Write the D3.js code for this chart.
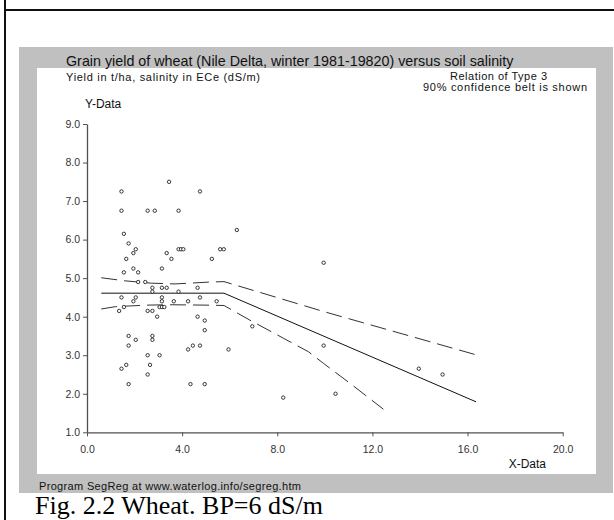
<!DOCTYPE html>
<html>
<head>
<meta charset="utf-8">
<script src="https://cdn.jsdelivr.net/npm/d3@7"></script>
<style>
  body { margin: 0; background: #fff; }
  svg { display: block; }
  text { font-family: "Liberation Sans", Arial, sans-serif; }
</style>
</head>
<body>
<div id="chart"></div>
<script>
// data
const xTicks = [0, 4, 8, 12, 16, 20];
const yTicks = [1, 2, 3, 4, 5, 6, 7, 8, 9];

const salinity = [1.45, 1.45, 1.55, 1.75, 2.05, 1.95, 1.65, 1.55, 1.95, 2.15,
  2.15, 2.45, 2.55, 2.85, 3.45, 3.85, 4.75, 6.3, 3.35, 3.55,
  3.85, 3.95, 4.05, 5.25, 5.6, 5.75, 3.15, 2.75, 2.75, 3.15,
  3.35, 3.85, 4.65, 1.45, 2.05, 3.15, 4.75, 1.95, 1.55, 3.15,
  3.05, 3.15, 3.25, 3.65, 4.25, 5.45, 1.35, 2.55, 2.75, 2.95,
  1.75, 1.75, 2.05, 2.75, 2.75, 2.55, 3.05, 2.65, 1.65, 1.45,
  2.55, 1.75, 4.25, 4.45, 4.75, 4.65, 4.95, 4.95, 4.35, 4.95,
  5.95, 6.95, 9.95, 9.95, 8.25, 10.45, 13.95, 14.95];
const grainYield = [7.25, 6.75, 6.15, 5.9, 5.75, 5.65, 5.5, 5.15, 5.25, 5.15,
  4.9, 4.9, 6.75, 6.75, 7.5, 6.75, 7.25, 6.25, 5.65, 5.5,
  5.75, 5.75, 5.75, 5.5, 5.75, 5.75, 5.25, 4.75, 4.65, 4.75,
  4.75, 4.65, 4.75, 4.5, 4.5, 4.5, 4.5, 4.4, 4.25, 4.4,
  4.25, 4.25, 4.25, 4.4, 4.4, 4.4, 4.15, 4.15, 4.15, 4.0,
  3.5, 3.25, 3.4, 3.5, 3.4, 3.0, 3.0, 2.75, 2.75, 2.65,
  2.5, 2.25, 3.15, 3.25, 3.25, 4.0, 3.9, 3.65, 2.25, 2.25,
  3.15, 3.75, 5.4, 3.25, 1.9, 2.0, 2.65, 2.5];

// segmented regression line (breakpoint near 5.8)
const fitX = [0.6, 5.76, 16.36];
const fitY = [4.61, 4.61, 1.79];

// 90% confidence belt
const upperX = [0.6, 1.6, 2.7, 3.7, 5.2, 5.76, 9.97, 16.36];
const upperY = [5.01, 4.93, 4.87, 4.85, 4.9, 4.91, 4.13, 3.01];
const lowerX = [0.6, 1.2, 2.5, 3.5, 5.0, 5.76, 6.85, 8.26, 9.31, 9.94, 11.06, 12.46];
const lowerY = [4.2, 4.26, 4.3, 4.31, 4.3, 4.29, 3.91, 3.44, 3.09, 2.79, 2.27, 1.6];

const svgWidth = 614;
const svgHeight = 520;

const svg = d3.select('#chart')
  .append('svg')
  .attr('width', svgWidth)
  .attr('height', svgHeight);

// page frame lines
svg.append('line').attr('x1', 5).attr('x2', 5).attr('y1', 0).attr('y2', 520)
  .attr('stroke', '#111').attr('stroke-width', 2);
svg.append('line').attr('x1', 4).attr('x2', 614).attr('y1', 10).attr('y2', 10)
  .attr('stroke', '#111').attr('stroke-width', 2);

// grey panel and white plot area
svg.append('rect').attr('x', 19).attr('y', 47).attr('width', 594).attr('height', 446)
  .attr('fill', '#c0c0c0');
svg.append('rect').attr('x', 37).attr('y', 68).attr('width', 559).attr('height', 406)
  .attr('fill', '#fff');

const xScale = d3.scaleLinear().domain([0, 20]).range([87, 562.7]);
const yScale = d3.scaleLinear().domain([1, 9]).range([432.3, 124]);

// axes
const xAxis = svg.append('g')
  .attr('transform', `translate(0,${yScale(1)})`)
  .call(d3.axisBottom(xScale).tickValues(xTicks).tickSize(4).tickSizeOuter(0)
    .tickPadding(9).tickFormat(d3.format('.1f')));
const yAxis = svg.append('g')
  .attr('transform', `translate(${xScale(0)},0)`)
  .call(d3.axisLeft(yScale).tickValues(yTicks).tickSize(4).tickSizeOuter(0)
    .tickPadding(3).tickFormat(d3.format('.1f')));

[xAxis, yAxis].forEach(a => {
  a.select('.domain').attr('stroke', '#505050').attr('stroke-width', 1.3);
  a.selectAll('.tick line').attr('stroke', '#505050');
  a.selectAll('.tick text').attr('fill', '#333').style('font-size', '10.5px')
    .style('font-family', '"Liberation Sans", Arial, sans-serif');
});

const lineGen = d3.line().x(d => xScale(d[0])).y(d => yScale(d[1]));

svg.append('path')
  .datum(fitX.map((x, i) => [x, fitY[i]]))
  .attr('d', lineGen).attr('fill', 'none').attr('stroke', '#111').attr('stroke-width', 1);

[[upperX, upperY], [lowerX, lowerY]].forEach(([xs, ys]) => {
  svg.append('path')
    .datum(xs.map((x, i) => [x, ys[i]]))
    .attr('d', lineGen).attr('fill', 'none').attr('stroke', '#333')
    .attr('stroke-width', 1).attr('stroke-dasharray', '16,7');
});

// observations
svg.selectAll('.pt')
  .data(salinity.map((x, i) => [x, grainYield[i]]))
  .enter().append('circle')
  .attr('class', 'pt')
  .attr('cx', d => xScale(d[0]))
  .attr('cy', d => yScale(d[1]))
  .attr('r', 1.7)
  .attr('fill', '#fff')
  .attr('stroke', '#222')
  .attr('stroke-width', 0.9);

// texts
svg.append('text').attr('x', 66).attr('y', 66)
  .style('font-size', '14.3px').attr('fill', '#111')
  .text('Grain yield of wheat (Nile Delta, winter 1981-19820) versus soil salinity');
svg.append('text').attr('x', 66).attr('y', 80.5)
  .style('font-size', '11px').attr('fill', '#111')
  .attr('textLength', 194).attr('lengthAdjust', 'spacing')
  .text('Yield in t/ha, salinity in ECe (dS/m)');
svg.append('text').attr('x', 450).attr('y', 79.5)
  .style('font-size', '11px').attr('fill', '#111')
  .attr('textLength', 97).attr('lengthAdjust', 'spacing')
  .text('Relation of Type 3');
svg.append('text').attr('x', 423).attr('y', 90.5)
  .style('font-size', '11px').attr('fill', '#111')
  .attr('textLength', 164).attr('lengthAdjust', 'spacing')
  .text('90% confidence belt is shown');
svg.append('text').attr('x', 85).attr('y', 107.5)
  .style('font-size', '12px').attr('fill', '#111')
  .text('Y-Data');
svg.append('text').attr('x', 546).attr('y', 467.5).attr('text-anchor', 'end')
  .style('font-size', '12px').attr('fill', '#111')
  .text('X-Data');
svg.append('text').attr('x', 39).attr('y', 489.5)
  .style('font-size', '11px').attr('fill', '#111')
  .attr('textLength', 262).attr('lengthAdjust', 'spacing')
  .text('Program SegReg at www.waterlog.info/segreg.htm');
svg.append('text').attr('x', 35).attr('y', 514)
  .style('font-size', '26px').style('font-family', '"Liberation Serif", "Times New Roman", serif')
  .attr('fill', '#000')
  .text('Fig. 2.2 Wheat. BP=6 dS/m');
</script>
</body>
</html>
